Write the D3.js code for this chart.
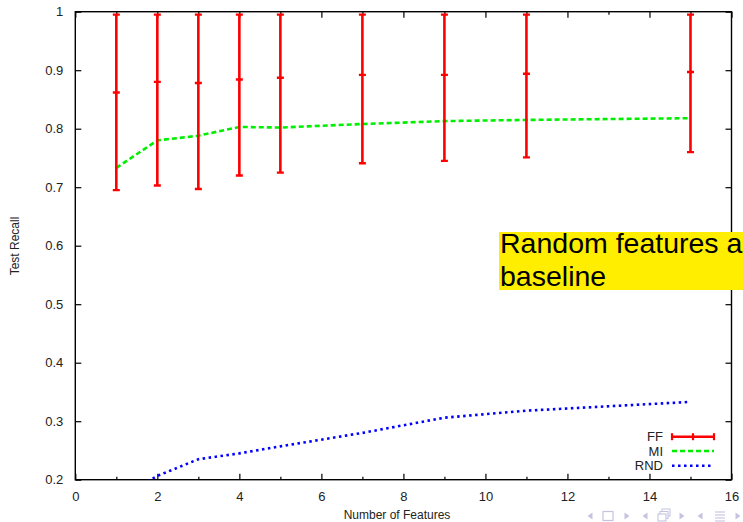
<!DOCTYPE html>
<html><head><meta charset="utf-8">
<script src="https://cdn.jsdelivr.net/npm/d3@7"></script>
<style>
html,body{margin:0;padding:0;background:#fff;overflow:hidden;}
svg{display:block;font-family:"Liberation Sans",Arial,Helvetica,sans-serif;}
</style></head>
<body>
<svg id="chart" width="743" height="522"></svg>
<script>
// ---- data ----
const features = [1, 2, 3, 4, 5, 7, 9, 11, 15];
const ffMean = [0.862, 0.880, 0.878, 0.884, 0.887, 0.892, 0.892, 0.894, 0.897];
const ffLow  = [0.695, 0.703, 0.697, 0.720, 0.725, 0.741, 0.745, 0.751, 0.760];
const ffHigh = [0.995, 0.995, 0.995, 0.995, 0.995, 0.995, 0.995, 0.995, 0.995];
const miValues  = [0.733, 0.780, 0.788, 0.803, 0.802, 0.808, 0.813, 0.815, 0.818];
const rndValues = [0.166, 0.2065, 0.235, 0.245, 0.257, 0.280, 0.306, 0.318, 0.333];
const xTicks = [0, 2, 4, 6, 8, 10, 12, 14, 16];
const xMinorTicks = [1, 3, 5, 7, 9, 11, 13, 15];
const yTicks = [0.2, 0.3, 0.4, 0.5, 0.6, 0.7, 0.8, 0.9, 1];
const legendLabels = ["FF", "MI", "RND"];
const annotationLines = ["Random features a", "baseline"];

// ---- layout ----
const svg = d3.select("#chart");
const L = 75.3, R = 731.5, T = 11.7, B = 479.7;
const x = d3.scaleLinear().domain([0, 16]).range([L, R]);
const y = d3.scaleLinear().domain([0.2, 1]).range([B, T]);

svg.append("defs").append("clipPath").attr("id", "plotclip")
  .append("rect").attr("x", L).attr("y", T).attr("width", R - L).attr("height", B - T);

// axes (gnuplot-like mirrored ticks)
const fmtY = d => d === 1 ? "1" : d3.format(".1f")(d);
const axL = svg.append("g").attr("transform", `translate(${L},0)`)
  .call(d3.axisLeft(y).tickValues(yTicks).tickFormat(fmtY).tickSize(-6).tickPadding(12));
const axR = svg.append("g").attr("transform", `translate(${R},0)`)
  .call(d3.axisRight(y).tickValues(yTicks).tickFormat("").tickSize(-6));
const axB = svg.append("g").attr("transform", `translate(0,${B})`)
  .call(d3.axisBottom(x).tickValues(xTicks).tickFormat(d3.format("d")).tickSize(-6).tickPadding(12));
const axBm = svg.append("g").attr("transform", `translate(0,${B})`)
  .call(d3.axisBottom(x).tickValues(xMinorTicks).tickFormat("").tickSize(-3));
const axT = svg.append("g").attr("transform", `translate(0,${T})`)
  .call(d3.axisTop(x).tickValues(xTicks).tickFormat("").tickSize(-6));
const axTm = svg.append("g").attr("transform", `translate(0,${T})`)
  .call(d3.axisTop(x).tickValues(xMinorTicks).tickFormat("").tickSize(-3));
[axL, axR, axB, axBm, axT, axTm].forEach(g => {
  g.select(".domain").remove();
  g.selectAll("line").attr("stroke", "#000").attr("stroke-width", 1.2);
  g.selectAll("text").attr("fill", "#222").style("font-size", "13px")
    .style("font-family", '"Liberation Sans",Arial,sans-serif');
});
axB.selectAll("text").attr("dy", "0.71em");

// frame
svg.append("rect").attr("x", L).attr("y", T).attr("width", R - L).attr("height", B - T)
  .attr("fill", "none").attr("stroke", "#000").attr("stroke-width", 1.4);

// axis titles
svg.append("text").attr("x", 397).attr("y", 519).attr("text-anchor", "middle")
  .style("font-size", "12px").attr("fill", "#222").text("Number of Features");
svg.append("text").attr("transform", "translate(19,246) rotate(-90)").attr("text-anchor", "middle")
  .style("font-size", "12px").attr("fill", "#222").text("Test Recall");

const plot = svg.append("g").attr("clip-path", "url(#plotclip)");

// MI dashed line
const line = d3.line().x(d => x(d[0])).y(d => y(d[1]));
plot.append("path").datum(features.map((f, i) => [f, miValues[i]]))
  .attr("d", line).attr("fill", "none").attr("stroke", "#00ee00")
  .attr("stroke-width", 2.6).attr("stroke-dasharray", "5,3");
// RND dotted line
plot.append("path").datum(features.map((f, i) => [f, rndValues[i]]))
  .attr("d", line).attr("fill", "none").attr("stroke", "#0000ff")
  .attr("stroke-width", 2.6).attr("stroke-dasharray", "2.5,3.5");

// FF error bars
const red = "#ff0000", capW = 3.5;
const eb = plot.selectAll("g.eb").data(features).join("g").attr("class", "eb");
eb.append("line").attr("x1", d => x(d)).attr("x2", d => x(d))
  .attr("y1", (d, i) => y(ffLow[i])).attr("y2", (d, i) => y(ffHigh[i]))
  .attr("stroke", red).attr("stroke-width", 2.6);
[ffLow, ffHigh, ffMean].forEach(arr => {
  eb.append("line").attr("x1", d => x(d) - capW).attr("x2", d => x(d) + capW)
    .attr("y1", (d, i) => y(arr[i])).attr("y2", (d, i) => y(arr[i]))
    .attr("stroke", red).attr("stroke-width", 2.4);
});

// legend
const legY = [436.7, 451, 465.7];
const lx1 = 672, lx2 = 714;
const leg = svg.append("g");
legendLabels.forEach((lab, i) => {
  leg.append("text").attr("x", 663).attr("y", legY[i]).attr("dy", "0.36em")
    .attr("text-anchor", "end").style("font-size", "13px").attr("fill", "#222").text(lab);
});
leg.append("line").attr("x1", lx1).attr("x2", lx2).attr("y1", legY[0]).attr("y2", legY[0])
  .attr("stroke", red).attr("stroke-width", 2.6);
[lx1, (lx1 + lx2) / 2, lx2].forEach(px => {
  leg.append("line").attr("x1", px).attr("x2", px).attr("y1", legY[0] - 3.5).attr("y2", legY[0] + 3.5)
    .attr("stroke", red).attr("stroke-width", 2.2);
});
leg.append("line").attr("x1", lx1).attr("x2", lx2).attr("y1", legY[1]).attr("y2", legY[1])
  .attr("stroke", "#00ee00").attr("stroke-width", 2.6).attr("stroke-dasharray", "5,3");
leg.append("line").attr("x1", lx1).attr("x2", lx2).attr("y1", legY[2]).attr("y2", legY[2])
  .attr("stroke", "#0000ff").attr("stroke-width", 2.6).attr("stroke-dasharray", "2.5,3.5");

// annotation box
svg.append("rect").attr("x", 499).attr("y", 232).attr("width", 260).attr("height", 58).attr("fill", "#ffee00");
annotationLines.forEach((t, i) => {
  svg.append("text").attr("x", 500).attr("y", 253 + i * 33).style("font-size", "28.5px")
    .attr("fill", "#000").text(t);
});

// beamer navigation symbols
const nav = svg.append("g").attr("fill", "#c4c4e2").attr("stroke", "#c4c4e2");
const navY = 516;
function triL(cx) { nav.append("path").attr("d", `M${cx+2.5},${navY-3.5}L${cx-2.5},${navY}L${cx+2.5},${navY+3.5}Z`).attr("stroke", "none"); }
function triR(cx) { nav.append("path").attr("d", `M${cx-2.5},${navY-3.5}L${cx+2.5},${navY}L${cx-2.5},${navY+3.5}Z`).attr("stroke", "none"); }
triL(590);
nav.append("rect").attr("x", 603).attr("y", navY - 4.5).attr("width", 10).attr("height", 9).attr("fill", "none").attr("stroke-width", 1.2);
triR(627); triL(645);
nav.append("rect").attr("x", 658).attr("y", navY - 2).attr("width", 8).attr("height", 7).attr("fill", "none").attr("stroke-width", 1.1);
nav.append("path").attr("d", `M660,${navY-2}V${navY-4.5}H668V${navY+2.5}H666M662,${navY-4.5}V${navY-7}H670V${navY}H668`).attr("fill", "none").attr("stroke-width", 1.1);
triR(682); triL(700);
[-4, -1, 2, 5].forEach(dy => nav.append("line").attr("x1", 715).attr("x2", 725).attr("y1", navY + dy).attr("y2", navY + dy).attr("stroke-width", 1.1));
triR(738);
</script>
</body></html>
